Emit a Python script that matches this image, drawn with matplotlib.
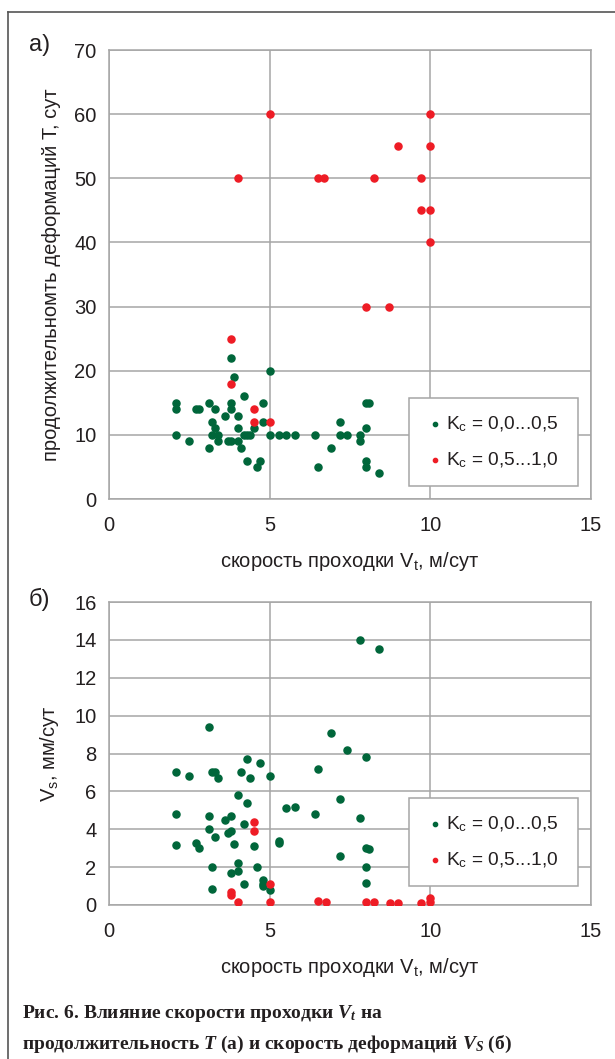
import matplotlib
matplotlib.use("Agg")
import matplotlib.pyplot as plt
from matplotlib.lines import Line2D

plt.rcParams["font.family"] = ["Liberation Sans", "DejaVu Sans"]
plt.rcParams["mathtext.fontset"] = "custom"
plt.rcParams["mathtext.rm"] = "Liberation Serif:bold"
plt.rcParams["mathtext.it"] = "Liberation Serif:italic:bold"
plt.rcParams["mathtext.sf"] = "Liberation Sans"

# panel a: duration of deformations T vs heading rate Vt
top_green_x = [3.8, 3.9, 5.0, 4.2, 2.1, 2.1, 2.7, 2.8, 3.1, 3.3, 3.8, 3.8, 3.6, 4.0,
               4.8, 3.2, 3.3, 4.0, 4.5, 4.8, 2.1, 2.5, 3.1, 3.2, 3.4, 3.4, 3.7, 3.8,
               4.0, 4.1, 4.2, 4.3, 4.4, 4.3, 4.7, 4.6, 5.0, 5.3, 5.5, 5.8, 6.4, 6.5,
               6.9, 7.2, 7.2, 7.4, 7.8, 7.8, 8.0, 8.1, 8.0, 8.0, 8.0, 8.4]
top_green_y = [22, 19, 20, 16, 15, 14, 14, 14, 15, 14, 15, 14, 13, 13,
               15, 12, 11, 11, 11, 12, 10, 9, 8, 10, 10, 9, 9, 9,
               9, 8, 10, 10, 10, 6, 6, 5, 10, 10, 10, 10, 10, 5,
               8, 12, 10, 10, 10, 9, 15, 15, 11, 6, 5, 4]
top_red_x = [3.8, 3.8, 4.5, 4.5, 5.0, 5.0, 10.0, 9.0, 10.0, 4.0, 6.5, 6.7, 8.25,
             9.7, 9.7, 10.0, 10.0, 8.0, 8.7]
top_red_y = [25, 18, 14, 12, 12, 60, 60, 55, 55, 50, 50, 50, 50,
             50, 45, 45, 40, 30, 30]

# panel b: deformation rate Vs vs heading rate Vt
bot_green_x = [7.8, 8.4, 3.1, 6.9, 7.4, 8.0, 4.3, 4.7, 2.1, 2.5, 3.2, 3.3, 3.4, 4.1,
               4.4, 5.0, 6.5, 4.0, 4.3, 5.5, 5.8, 7.2, 2.1, 3.1, 3.8, 3.6, 4.2, 6.4,
               7.8, 3.1, 3.7, 3.8, 3.3, 5.3, 5.3, 2.1, 2.7, 2.8, 3.9, 4.5, 7.2, 8.0,
               8.1, 3.2, 4.0, 4.0, 3.8, 4.6, 8.0, 3.2, 4.2, 4.8, 4.8, 4.8, 5.0, 8.0]
bot_green_y = [14.0, 13.5, 9.4, 9.1, 8.2, 7.8, 7.7, 7.5, 7.0, 6.8, 7.0, 7.0, 6.7, 7.0,
               6.7, 6.8, 7.2, 5.8, 5.4, 5.1, 5.2, 5.6, 4.8, 4.7, 4.7, 4.5, 4.3, 4.8,
               4.6, 4.0, 3.8, 3.9, 3.6, 3.4, 3.3, 3.15, 3.3, 3.0, 3.2, 3.1, 2.6, 3.0,
               2.95, 2.0, 2.2, 1.8, 1.7, 2.0, 2.0, 0.85, 1.1, 1.3, 1.1, 1.0, 0.8, 1.15]
bot_red_x = [4.5, 4.5, 5.0, 3.8, 3.8, 4.0, 5.0, 6.5, 6.75, 8.0, 8.25, 8.75, 9.0,
             9.7, 10.0, 10.0]
bot_red_y = [4.4, 3.9, 1.1, 0.7, 0.55, 0.15, 0.15, 0.2, 0.15, 0.15, 0.15, 0.1, 0.1,
             0.1, 0.35, 0.15]

x_ticks = [0, 5, 10, 15]
label_green = "K$_\\mathsf{c}$ = 0,0...0,5"
label_red = "K$_\\mathsf{c}$ = 0,5...1,0"
xlabel = "скорость проходки V$_\\mathsf{t}$, м/сут"

GREEN = "#00663a"
RED = "#ee1c25"
GRID = "#a6a6a6"
TXT = "#231f20"
FS = 14.5

W, H = 615, 1059
fig = plt.figure(figsize=(W / 100, H / 100), dpi=100)


def px_axes(left, top, right, bottom):
    return fig.add_axes([left / W, 1 - bottom / H, (right - left) / W, (bottom - top) / H])


def style(ax, ylim, ystep, ylabel, leg_anchor):
    ax.set_xlim(0, 15)
    ax.set_ylim(*ylim)
    ax.set_xticks(x_ticks)
    ax.set_yticks(range(ylim[0], ylim[1] + 1, ystep))
    ax.grid(True, color=GRID, linewidth=1.1)
    ax.set_axisbelow(True)
    for sp in ax.spines.values():
        sp.set_color(GRID)
        sp.set_linewidth(1.1)
    ax.tick_params(axis="both", length=0, labelsize=FS, labelcolor=TXT)
    ax.tick_params(axis="x", pad=12)
    ax.tick_params(axis="y", pad=9)
    ax.set_xlabel(xlabel, fontsize=FS, color=TXT, labelpad=11)
    ax.set_ylabel(ylabel, fontsize=FS, color=TXT)
    ax.yaxis.set_label_coords(-0.099, 0.5)
    leg = ax.legend(loc="lower left", bbox_to_anchor=leg_anchor, mode="expand",
                    borderaxespad=0, fontsize=13.8, handletextpad=0.1,
                    labelspacing=0.85, borderpad=0.85, handlelength=1.0,
                    fancybox=False, framealpha=1, edgecolor=GRID, markerscale=0.6)
    leg.get_frame().set_linewidth(1.1)
    for t in leg.get_texts():
        t.set_color(TXT)


ax1 = px_axes(109, 50, 591, 499)
ax1.scatter(top_green_x, top_green_y, s=26, color=GREEN, label=label_green, zorder=3)
ax1.scatter(top_red_x, top_red_y, s=26, color=RED, label=label_red, zorder=3)
style(ax1, (0, 70), 10, "продолжительномть деформаций Т, сут", (0.622, 0.029, 0.351, 0.2))

ax2 = px_axes(109, 602, 591, 905)
ax2.scatter(bot_green_x, bot_green_y, s=26, color=GREEN, label=label_green, zorder=3)
ax2.scatter(bot_red_x, bot_red_y, s=26, color=RED, label=label_red, zorder=3)
style(ax2, (0, 16), 2, "V$_\\mathsf{s}$, мм/сут", (0.622, 0.063, 0.351, 0.28))

fig.text(29 / W, 1 - 45 / H, "а)", fontsize=17, color=TXT, va="center")
fig.text(29 / W, 1 - 599 / H, "б)", fontsize=17, color=TXT, va="center")

# outer frame (left and top edges)
fig.add_artist(Line2D([8 / W, 8 / W], [0, 1 - 12 / H], color="#555555", linewidth=1.2))
fig.add_artist(Line2D([8 / W, 1], [1 - 12 / H, 1 - 12 / H], color="#555555", linewidth=1.2))

cap_kw = dict(fontsize=14, family="Liberation Serif", fontweight="bold", color=TXT)
fig.text(22 / W, 1 - 1014 / H, "Рис. 6. Влияние скорости проходки $V_t$ на", va="center", **cap_kw)
fig.text(22 / W, 1 - 1044 / H, "продолжительность $T$ (а) и скорость деформаций $V_S$ (б)", va="center", **cap_kw)

fig.savefig("out.png", dpi=100)
